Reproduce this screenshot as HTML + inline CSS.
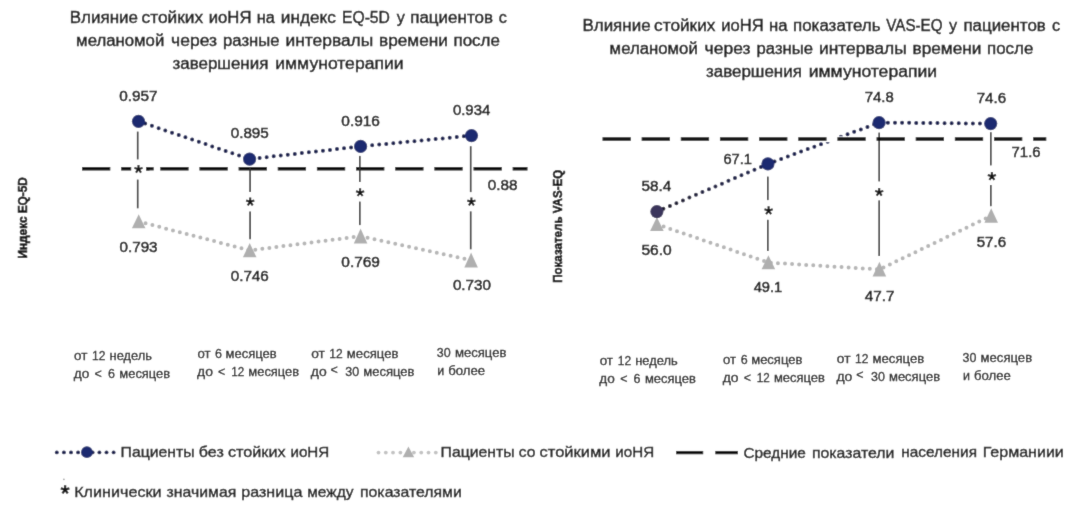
<!DOCTYPE html>
<html><head><meta charset="utf-8"><style>
html,body{margin:0;padding:0;background:#fff;}
body{width:1080px;height:515px;overflow:hidden;font-family:"Liberation Sans",sans-serif;}
svg{display:block;font-family:"Liberation Sans",sans-serif;}
</style></head><body>
<svg width="1080" height="515" viewBox="0 0 1080 515">
<defs><filter id="soft" x="0" y="0" width="1080" height="515" filterUnits="userSpaceOnUse"><feConvolveMatrix order="3" kernelMatrix="1 5 1 5 40 5 1 5 1" divisor="64" edgeMode="duplicate" preserveAlpha="true"/></filter></defs>
<g filter="url(#soft)">
<rect width="1080" height="515" fill="#ffffff"/>
<text x="69.74" y="23.15" font-size="15.6" fill="#141414" font-weight="normal" textLength="68.23" lengthAdjust="spacingAndGlyphs" stroke="#141414" stroke-width="0.42">Влияние</text>
<text x="141.54" y="23.15" font-size="15.6" fill="#141414" font-weight="normal" textLength="61.63" lengthAdjust="spacingAndGlyphs" stroke="#141414" stroke-width="0.42">стойких</text>
<text x="208.74" y="23.15" font-size="15.6" fill="#141414" font-weight="normal" textLength="42.73" lengthAdjust="spacingAndGlyphs" stroke="#141414" stroke-width="0.42">иоНЯ</text>
<text x="256.74" y="23.15" font-size="15.6" fill="#141414" font-weight="normal" textLength="18.13" lengthAdjust="spacingAndGlyphs" stroke="#141414" stroke-width="0.42">на</text>
<text x="280.84" y="23.15" font-size="15.6" fill="#141414" font-weight="normal" textLength="55.13" lengthAdjust="spacingAndGlyphs" stroke="#141414" stroke-width="0.42">индекс</text>
<text x="341.94" y="23.15" font-size="15.6" fill="#141414" font-weight="normal" textLength="48.03" lengthAdjust="spacingAndGlyphs" stroke="#141414" stroke-width="0.42">EQ-5D</text>
<text x="400.75" y="23.15" font-size="16.22" fill="#141414" font-weight="normal" text-anchor="middle" stroke="#141414" stroke-width="0.42">у</text>
<text x="410.24" y="23.15" font-size="15.6" fill="#141414" font-weight="normal" textLength="82.73" lengthAdjust="spacingAndGlyphs" stroke="#141414" stroke-width="0.42">пациентов</text>
<text x="502.75" y="23.15" font-size="16.22" fill="#141414" font-weight="normal" text-anchor="middle" stroke="#141414" stroke-width="0.42">с</text>
<text x="76.14" y="46.10" font-size="15.6" fill="#141414" font-weight="normal" textLength="88.13" lengthAdjust="spacingAndGlyphs" stroke="#141414" stroke-width="0.42">меланомой</text>
<text x="171.14" y="46.10" font-size="15.6" fill="#141414" font-weight="normal" textLength="45.93" lengthAdjust="spacingAndGlyphs" stroke="#141414" stroke-width="0.42">через</text>
<text x="223.04" y="46.10" font-size="15.6" fill="#141414" font-weight="normal" textLength="56.43" lengthAdjust="spacingAndGlyphs" stroke="#141414" stroke-width="0.42">разные</text>
<text x="285.44" y="46.10" font-size="15.6" fill="#141414" font-weight="normal" textLength="87.83" lengthAdjust="spacingAndGlyphs" stroke="#141414" stroke-width="0.42">интервалы</text>
<text x="379.04" y="46.10" font-size="15.6" fill="#141414" font-weight="normal" textLength="68.93" lengthAdjust="spacingAndGlyphs" stroke="#141414" stroke-width="0.42">времени</text>
<text x="453.54" y="46.10" font-size="15.6" fill="#141414" font-weight="normal" textLength="46.33" lengthAdjust="spacingAndGlyphs" stroke="#141414" stroke-width="0.42">после</text>
<text x="172.44" y="68.90" font-size="15.6" fill="#141414" font-weight="normal" textLength="95.93" lengthAdjust="spacingAndGlyphs" stroke="#141414" stroke-width="0.42">завершения</text>
<text x="275.24" y="68.90" font-size="15.6" fill="#141414" font-weight="normal" textLength="128.33" lengthAdjust="spacingAndGlyphs" stroke="#141414" stroke-width="0.42">иммунотерапии</text>
<text x="582.44" y="30.80" font-size="15.6" fill="#141414" font-weight="normal" textLength="68.13" lengthAdjust="spacingAndGlyphs" stroke="#141414" stroke-width="0.42">Влияние</text>
<text x="654.14" y="30.80" font-size="15.6" fill="#141414" font-weight="normal" textLength="61.23" lengthAdjust="spacingAndGlyphs" stroke="#141414" stroke-width="0.42">стойких</text>
<text x="721.34" y="30.80" font-size="15.6" fill="#141414" font-weight="normal" textLength="42.43" lengthAdjust="spacingAndGlyphs" stroke="#141414" stroke-width="0.42">иоНЯ</text>
<text x="768.94" y="30.80" font-size="15.6" fill="#141414" font-weight="normal" textLength="18.53" lengthAdjust="spacingAndGlyphs" stroke="#141414" stroke-width="0.42">на</text>
<text x="793.04" y="30.80" font-size="15.6" fill="#141414" font-weight="normal" textLength="87.53" lengthAdjust="spacingAndGlyphs" stroke="#141414" stroke-width="0.42">показатель</text>
<text x="886.34" y="30.80" font-size="15.6" fill="#141414" font-weight="normal" textLength="56.23" lengthAdjust="spacingAndGlyphs" stroke="#141414" stroke-width="0.42">VAS-EQ</text>
<text x="953.15" y="30.80" font-size="16.22" fill="#141414" font-weight="normal" text-anchor="middle" stroke="#141414" stroke-width="0.42">у</text>
<text x="963.44" y="30.80" font-size="15.6" fill="#141414" font-weight="normal" textLength="82.33" lengthAdjust="spacingAndGlyphs" stroke="#141414" stroke-width="0.42">пациентов</text>
<text x="1055.95" y="30.80" font-size="16.22" fill="#141414" font-weight="normal" text-anchor="middle" stroke="#141414" stroke-width="0.42">с</text>
<text x="609.64" y="53.70" font-size="15.6" fill="#141414" font-weight="normal" textLength="88.13" lengthAdjust="spacingAndGlyphs" stroke="#141414" stroke-width="0.42">меланомой</text>
<text x="704.64" y="53.70" font-size="15.6" fill="#141414" font-weight="normal" textLength="45.93" lengthAdjust="spacingAndGlyphs" stroke="#141414" stroke-width="0.42">через</text>
<text x="756.54" y="53.70" font-size="15.6" fill="#141414" font-weight="normal" textLength="56.43" lengthAdjust="spacingAndGlyphs" stroke="#141414" stroke-width="0.42">разные</text>
<text x="818.94" y="53.70" font-size="15.6" fill="#141414" font-weight="normal" textLength="87.83" lengthAdjust="spacingAndGlyphs" stroke="#141414" stroke-width="0.42">интервалы</text>
<text x="912.54" y="53.70" font-size="15.6" fill="#141414" font-weight="normal" textLength="68.93" lengthAdjust="spacingAndGlyphs" stroke="#141414" stroke-width="0.42">времени</text>
<text x="987.04" y="53.70" font-size="15.6" fill="#141414" font-weight="normal" textLength="46.33" lengthAdjust="spacingAndGlyphs" stroke="#141414" stroke-width="0.42">после</text>
<text x="705.94" y="76.70" font-size="15.6" fill="#141414" font-weight="normal" textLength="95.93" lengthAdjust="spacingAndGlyphs" stroke="#141414" stroke-width="0.42">завершения</text>
<text x="808.74" y="76.70" font-size="15.6" fill="#141414" font-weight="normal" textLength="128.33" lengthAdjust="spacingAndGlyphs" stroke="#141414" stroke-width="0.42">иммунотерапии</text>
<line x1="82.0" y1="168.8" x2="527.5" y2="168.8" stroke="#0a0a0a" stroke-width="3.5" stroke-dasharray="28.3 10.85"/>
<line x1="137.7" y1="131.6" x2="137.7" y2="159.4" stroke="#303030" stroke-width="1.65"/>
<line x1="137.7" y1="179.6" x2="137.7" y2="208.3" stroke="#303030" stroke-width="1.65"/>
<line x1="250.1" y1="168.0" x2="250.1" y2="192.0" stroke="#303030" stroke-width="1.65"/>
<line x1="250.1" y1="211.4" x2="250.1" y2="239.3" stroke="#303030" stroke-width="1.65"/>
<line x1="359.8" y1="155.9" x2="359.8" y2="182.0" stroke="#303030" stroke-width="1.65"/>
<line x1="359.8" y1="201.6" x2="359.8" y2="225.1" stroke="#303030" stroke-width="1.65"/>
<line x1="470.7" y1="146.2" x2="470.7" y2="192.1" stroke="#303030" stroke-width="1.65"/>
<line x1="470.7" y1="211.4" x2="470.7" y2="249.3" stroke="#303030" stroke-width="1.65"/>
<rect x="131.2" y="164" width="15" height="10" fill="#fff"/>
<rect x="146.2" y="167.2" width="7.5" height="3.2" fill="#0a0a0a"/>
<path d="M138.50,169.20 L138.50,164.90 M138.50,169.20 L142.59,167.87 M138.50,169.20 L141.03,172.68 M138.50,169.20 L135.97,172.68 M138.50,169.20 L134.41,167.87 " stroke="#151515" stroke-width="2.05" fill="none" stroke-linecap="butt"/>
<path d="M250.20,201.80 L250.20,197.50 M250.20,201.80 L254.29,200.47 M250.20,201.80 L252.73,205.28 M250.20,201.80 L247.67,205.28 M250.20,201.80 L246.11,200.47 " stroke="#151515" stroke-width="2.05" fill="none" stroke-linecap="butt"/>
<path d="M360.10,192.50 L360.10,188.20 M360.10,192.50 L364.19,191.17 M360.10,192.50 L362.63,195.98 M360.10,192.50 L357.57,195.98 M360.10,192.50 L356.01,191.17 " stroke="#151515" stroke-width="2.05" fill="none" stroke-linecap="butt"/>
<path d="M471.40,201.80 L471.40,197.50 M471.40,201.80 L475.49,200.47 M471.40,201.80 L473.93,205.28 M471.40,201.80 L468.87,205.28 M471.40,201.80 L467.31,200.47 " stroke="#151515" stroke-width="2.05" fill="none" stroke-linecap="butt"/>
<path d="M138.7,221.5 L249.7,250.4 L360.6,236.2 L471.1,260.2" fill="none" stroke="#b6b6b6" stroke-width="4.0" stroke-linecap="round" stroke-dasharray="0 7.08"/>
<path d="M138.5,121.3 L249.6,159.1 L360.6,146.4 L471.5,135.6" fill="none" stroke="#171e50" stroke-width="4.0" stroke-linecap="round" stroke-dasharray="0 7.08"/>
<path d="M138.7,214.2 L145.5,228.3 L131.9,228.3 Z" fill="#afafaf"/>
<path d="M249.7,243.0 L256.5,257.3 L242.9,257.3 Z" fill="#afafaf"/>
<path d="M360.6,228.6 L367.4,243.4 L353.8,243.4 Z" fill="#afafaf"/>
<path d="M471.1,252.6 L477.9,267.4 L464.3,267.4 Z" fill="#afafaf"/>
<circle cx="138.5" cy="121.3" r="6.6" fill="#1c2a70"/>
<circle cx="249.6" cy="159.1" r="6.6" fill="#1c2a70"/>
<circle cx="360.6" cy="146.4" r="6.6" fill="#1c2a70"/>
<circle cx="471.5" cy="135.6" r="6.6" fill="#1c2a70"/>
<text x="119.20" y="101.30" font-size="14.9" fill="#141414" font-weight="normal" textLength="38.34" lengthAdjust="spacingAndGlyphs" stroke="#141414" stroke-width="0.5">0.957</text>
<text x="230.70" y="138.30" font-size="14.9" fill="#141414" font-weight="normal" textLength="38.14" lengthAdjust="spacingAndGlyphs" stroke="#141414" stroke-width="0.5">0.895</text>
<text x="341.30" y="126.20" font-size="14.9" fill="#141414" font-weight="normal" textLength="38.64" lengthAdjust="spacingAndGlyphs" stroke="#141414" stroke-width="0.5">0.916</text>
<text x="452.90" y="114.80" font-size="14.9" fill="#141414" font-weight="normal" textLength="37.35" lengthAdjust="spacingAndGlyphs" stroke="#141414" stroke-width="0.5">0.934</text>
<text x="487.70" y="190.00" font-size="14.9" fill="#141414" font-weight="normal" textLength="29.75" lengthAdjust="spacingAndGlyphs" stroke="#141414" stroke-width="0.5">0.88</text>
<text x="119.50" y="251.80" font-size="14.9" fill="#141414" font-weight="normal" textLength="38.05" lengthAdjust="spacingAndGlyphs" stroke="#141414" stroke-width="0.5">0.793</text>
<text x="230.70" y="280.80" font-size="14.9" fill="#141414" font-weight="normal" textLength="38.14" lengthAdjust="spacingAndGlyphs" stroke="#141414" stroke-width="0.5">0.746</text>
<text x="341.30" y="266.50" font-size="14.9" fill="#141414" font-weight="normal" textLength="38.64" lengthAdjust="spacingAndGlyphs" stroke="#141414" stroke-width="0.5">0.769</text>
<text x="452.90" y="290.40" font-size="14.9" fill="#141414" font-weight="normal" textLength="38.05" lengthAdjust="spacingAndGlyphs" stroke="#141414" stroke-width="0.5">0.730</text>
<line x1="767.8" y1="176.6" x2="767.8" y2="200.1" stroke="#303030" stroke-width="1.65"/>
<line x1="767.8" y1="219.8" x2="767.8" y2="251.0" stroke="#303030" stroke-width="1.65"/>
<line x1="879.2" y1="132.6" x2="879.2" y2="181.4" stroke="#303030" stroke-width="1.65"/>
<line x1="879.2" y1="200.4" x2="879.2" y2="256.0" stroke="#303030" stroke-width="1.65"/>
<line x1="990.8" y1="132.2" x2="990.8" y2="165.4" stroke="#303030" stroke-width="1.65"/>
<line x1="990.8" y1="185.0" x2="990.8" y2="206.2" stroke="#303030" stroke-width="1.65"/>
<path d="M768.60,210.60 L768.60,206.30 M768.60,210.60 L772.69,209.27 M768.60,210.60 L771.13,214.08 M768.60,210.60 L766.07,214.08 M768.60,210.60 L764.51,209.27 " stroke="#151515" stroke-width="2.05" fill="none" stroke-linecap="butt"/>
<path d="M879.20,192.20 L879.20,187.90 M879.20,192.20 L883.29,190.87 M879.20,192.20 L881.73,195.68 M879.20,192.20 L876.67,195.68 M879.20,192.20 L875.11,190.87 " stroke="#151515" stroke-width="2.05" fill="none" stroke-linecap="butt"/>
<path d="M991.90,176.30 L991.90,172.00 M991.90,176.30 L995.99,174.97 M991.90,176.30 L994.43,179.78 M991.90,176.30 L989.37,179.78 M991.90,176.30 L987.81,174.97 " stroke="#151515" stroke-width="2.05" fill="none" stroke-linecap="butt"/>
<path d="M656.9,224.3 L768.4,262.6 L879.4,269.4 L991.2,215.8" fill="none" stroke="#b6b6b6" stroke-width="4.0" stroke-linecap="round" stroke-dasharray="0 7.08"/>
<defs><linearGradient id="gr1" gradientUnits="userSpaceOnUse" x1="656.9" y1="211.6" x2="767.9" y2="163.9"><stop offset="0" stop-color="#1d1b2c"/><stop offset="0.45" stop-color="#232446"/><stop offset="1" stop-color="#171e50"/></linearGradient></defs>
<path d="M656.9,211.6 L767.9,163.9" fill="none" stroke="url(#gr1)" stroke-width="4.0" stroke-linecap="round" stroke-dasharray="0 7.08"/>
<path d="M767.9,163.9 L879.1,122.6 L990.7,123.6" fill="none" stroke="#171e50" stroke-width="4.0" stroke-linecap="round" stroke-dasharray="0 7.08"/>
<rect x="822" y="136.3" width="24" height="5.9" fill="#fff"/>
<line x1="602.5" y1="139.0" x2="1046.3" y2="139.0" stroke="#0a0a0a" stroke-width="3.5" stroke-dasharray="28.3 10.85"/>
<path d="M656.9,217.1 L663.7,231.0 L650.1,231.0 Z" fill="#afafaf"/>
<path d="M768.4,255.3 L775.2,269.3 L761.6,269.3 Z" fill="#afafaf"/>
<path d="M879.4,261.8 L886.2,276.5 L872.6,276.5 Z" fill="#afafaf"/>
<path d="M991.2,208.3 L998.0,222.8 L984.4,222.8 Z" fill="#afafaf"/>
<circle cx="656.9" cy="211.6" r="6.6" fill="#3a345c"/>
<circle cx="767.9" cy="163.9" r="6.6" fill="#1c2a70"/>
<circle cx="879.1" cy="122.6" r="6.6" fill="#1c2a70"/>
<circle cx="990.7" cy="123.6" r="6.6" fill="#1c2a70"/>
<text x="641.40" y="191.30" font-size="14.9" fill="#141414" font-weight="normal" textLength="29.75" lengthAdjust="spacingAndGlyphs" stroke="#141414" stroke-width="0.5">58.4</text>
<text x="723.40" y="164.00" font-size="14.9" fill="#141414" font-weight="normal" textLength="28.54" lengthAdjust="spacingAndGlyphs" stroke="#141414" stroke-width="0.5">67.1</text>
<text x="864.70" y="102.40" font-size="14.9" fill="#141414" font-weight="normal" textLength="29.04" lengthAdjust="spacingAndGlyphs" stroke="#141414" stroke-width="0.5">74.8</text>
<text x="976.70" y="103.20" font-size="14.9" fill="#141414" font-weight="normal" textLength="29.35" lengthAdjust="spacingAndGlyphs" stroke="#141414" stroke-width="0.5">74.6</text>
<text x="1011.60" y="156.60" font-size="14.9" fill="#141414" font-weight="normal" textLength="28.94" lengthAdjust="spacingAndGlyphs" stroke="#141414" stroke-width="0.5">71.6</text>
<text x="641.40" y="255.30" font-size="14.9" fill="#141414" font-weight="normal" textLength="30.25" lengthAdjust="spacingAndGlyphs" stroke="#141414" stroke-width="0.5">56.0</text>
<text x="753.70" y="292.40" font-size="14.9" fill="#141414" font-weight="normal" textLength="28.54" lengthAdjust="spacingAndGlyphs" stroke="#141414" stroke-width="0.5">49.1</text>
<text x="864.70" y="301.10" font-size="14.9" fill="#141414" font-weight="normal" textLength="29.75" lengthAdjust="spacingAndGlyphs" stroke="#141414" stroke-width="0.5">47.7</text>
<text x="976.70" y="246.60" font-size="14.9" fill="#141414" font-weight="normal" textLength="29.35" lengthAdjust="spacingAndGlyphs" stroke="#141414" stroke-width="0.5">57.6</text>
<text transform="translate(27.2,258.5) rotate(-90)" font-size="13" font-weight="bold" fill="#0c0c0c" stroke="#0c0c0c" stroke-width="0.5" textLength="81.3" lengthAdjust="spacingAndGlyphs">Индекс EQ-5D</text>
<text transform="translate(561.6,282.8) rotate(-90)" font-size="13" font-weight="bold" fill="#0c0c0c" stroke="#0c0c0c" stroke-width="0.5" textLength="113" lengthAdjust="spacingAndGlyphs">Показатель VAS-EQ</text>
<text x="74.06" y="359.75" font-size="12" fill="#141414" font-weight="normal" textLength="13.30" lengthAdjust="spacingAndGlyphs" stroke="#141414" stroke-width="0.26">от</text>
<text x="92.06" y="359.75" font-size="12" fill="#141414" font-weight="normal" textLength="13.40" lengthAdjust="spacingAndGlyphs" stroke="#141414" stroke-width="0.26">12</text>
<text x="109.56" y="359.75" font-size="12" fill="#141414" font-weight="normal" textLength="42.40" lengthAdjust="spacingAndGlyphs" stroke="#141414" stroke-width="0.26">недель</text>
<text x="73.71" y="377.50" font-size="12" fill="#141414" font-weight="normal" textLength="15.50" lengthAdjust="spacingAndGlyphs" stroke="#141414" stroke-width="0.26">до</text>
<text x="98.21" y="377.50" font-size="12.48" fill="#141414" font-weight="normal" text-anchor="middle" stroke="#141414" stroke-width="0.26">&lt;</text>
<text x="111.44" y="377.50" font-size="12.48" fill="#141414" font-weight="normal" text-anchor="middle" stroke="#141414" stroke-width="0.26">6</text>
<text x="119.31" y="377.50" font-size="12" fill="#141414" font-weight="normal" textLength="50.90" lengthAdjust="spacingAndGlyphs" stroke="#141414" stroke-width="0.26">месяцев</text>
<text x="197.41" y="358.10" font-size="12" fill="#141414" font-weight="normal" textLength="13.05" lengthAdjust="spacingAndGlyphs" stroke="#141414" stroke-width="0.26">от</text>
<text x="218.54" y="358.10" font-size="12.48" fill="#141414" font-weight="normal" text-anchor="middle" stroke="#141414" stroke-width="0.26">6</text>
<text x="225.56" y="358.10" font-size="12" fill="#141414" font-weight="normal" textLength="51.15" lengthAdjust="spacingAndGlyphs" stroke="#141414" stroke-width="0.26">месяцев</text>
<text x="197.06" y="376.25" font-size="12" fill="#141414" font-weight="normal" textLength="15.90" lengthAdjust="spacingAndGlyphs" stroke="#141414" stroke-width="0.26">до</text>
<text x="221.74" y="376.25" font-size="12.48" fill="#141414" font-weight="normal" text-anchor="middle" stroke="#141414" stroke-width="0.26">&lt;</text>
<text x="231.21" y="376.25" font-size="12" fill="#141414" font-weight="normal" textLength="13.00" lengthAdjust="spacingAndGlyphs" stroke="#141414" stroke-width="0.26">12</text>
<text x="248.31" y="376.25" font-size="12" fill="#141414" font-weight="normal" textLength="50.90" lengthAdjust="spacingAndGlyphs" stroke="#141414" stroke-width="0.26">месяцев</text>
<text x="311.21" y="357.75" font-size="12" fill="#141414" font-weight="normal" textLength="13.65" lengthAdjust="spacingAndGlyphs" stroke="#141414" stroke-width="0.26">от</text>
<text x="329.31" y="357.75" font-size="12" fill="#141414" font-weight="normal" textLength="13.40" lengthAdjust="spacingAndGlyphs" stroke="#141414" stroke-width="0.26">12</text>
<text x="346.81" y="357.75" font-size="12" fill="#141414" font-weight="normal" textLength="51.75" lengthAdjust="spacingAndGlyphs" stroke="#141414" stroke-width="0.26">месяцев</text>
<text x="310.81" y="375.60" font-size="12" fill="#141414" font-weight="normal" textLength="15.90" lengthAdjust="spacingAndGlyphs" stroke="#141414" stroke-width="0.26">до</text>
<text x="334.24" y="373.50" font-size="12.48" fill="#141414" font-weight="normal" text-anchor="middle" stroke="#141414" stroke-width="0.26">&lt;</text>
<text x="345.31" y="375.60" font-size="12" fill="#141414" font-weight="normal" textLength="13.90" lengthAdjust="spacingAndGlyphs" stroke="#141414" stroke-width="0.26">30</text>
<text x="363.31" y="375.60" font-size="12" fill="#141414" font-weight="normal" textLength="51.15" lengthAdjust="spacingAndGlyphs" stroke="#141414" stroke-width="0.26">месяцев</text>
<text x="436.81" y="356.50" font-size="12" fill="#141414" font-weight="normal" textLength="13.90" lengthAdjust="spacingAndGlyphs" stroke="#141414" stroke-width="0.26">30</text>
<text x="454.91" y="356.50" font-size="12" fill="#141414" font-weight="normal" textLength="51.55" lengthAdjust="spacingAndGlyphs" stroke="#141414" stroke-width="0.26">месяцев</text>
<text x="440.76" y="374.75" font-size="12.48" fill="#141414" font-weight="normal" text-anchor="middle" stroke="#141414" stroke-width="0.26">и</text>
<text x="448.31" y="374.75" font-size="12" fill="#141414" font-weight="normal" textLength="36.90" lengthAdjust="spacingAndGlyphs" stroke="#141414" stroke-width="0.26">более</text>
<text x="599.71" y="365.25" font-size="12" fill="#141414" font-weight="normal" textLength="13.30" lengthAdjust="spacingAndGlyphs" stroke="#141414" stroke-width="0.26">от</text>
<text x="617.71" y="365.25" font-size="12" fill="#141414" font-weight="normal" textLength="13.40" lengthAdjust="spacingAndGlyphs" stroke="#141414" stroke-width="0.26">12</text>
<text x="635.21" y="365.25" font-size="12" fill="#141414" font-weight="normal" textLength="42.40" lengthAdjust="spacingAndGlyphs" stroke="#141414" stroke-width="0.26">недель</text>
<text x="599.36" y="383.00" font-size="12" fill="#141414" font-weight="normal" textLength="15.50" lengthAdjust="spacingAndGlyphs" stroke="#141414" stroke-width="0.26">до</text>
<text x="623.86" y="383.00" font-size="12.48" fill="#141414" font-weight="normal" text-anchor="middle" stroke="#141414" stroke-width="0.26">&lt;</text>
<text x="637.09" y="383.00" font-size="12.48" fill="#141414" font-weight="normal" text-anchor="middle" stroke="#141414" stroke-width="0.26">6</text>
<text x="644.96" y="383.00" font-size="12" fill="#141414" font-weight="normal" textLength="50.90" lengthAdjust="spacingAndGlyphs" stroke="#141414" stroke-width="0.26">месяцев</text>
<text x="723.06" y="363.60" font-size="12" fill="#141414" font-weight="normal" textLength="13.05" lengthAdjust="spacingAndGlyphs" stroke="#141414" stroke-width="0.26">от</text>
<text x="744.18" y="363.60" font-size="12.48" fill="#141414" font-weight="normal" text-anchor="middle" stroke="#141414" stroke-width="0.26">6</text>
<text x="751.21" y="363.60" font-size="12" fill="#141414" font-weight="normal" textLength="51.15" lengthAdjust="spacingAndGlyphs" stroke="#141414" stroke-width="0.26">месяцев</text>
<text x="722.71" y="381.75" font-size="12" fill="#141414" font-weight="normal" textLength="15.90" lengthAdjust="spacingAndGlyphs" stroke="#141414" stroke-width="0.26">до</text>
<text x="747.38" y="381.75" font-size="12.48" fill="#141414" font-weight="normal" text-anchor="middle" stroke="#141414" stroke-width="0.26">&lt;</text>
<text x="756.86" y="381.75" font-size="12" fill="#141414" font-weight="normal" textLength="13.00" lengthAdjust="spacingAndGlyphs" stroke="#141414" stroke-width="0.26">12</text>
<text x="773.96" y="381.75" font-size="12" fill="#141414" font-weight="normal" textLength="50.90" lengthAdjust="spacingAndGlyphs" stroke="#141414" stroke-width="0.26">месяцев</text>
<text x="836.86" y="363.25" font-size="12" fill="#141414" font-weight="normal" textLength="13.65" lengthAdjust="spacingAndGlyphs" stroke="#141414" stroke-width="0.26">от</text>
<text x="854.96" y="363.25" font-size="12" fill="#141414" font-weight="normal" textLength="13.40" lengthAdjust="spacingAndGlyphs" stroke="#141414" stroke-width="0.26">12</text>
<text x="872.46" y="363.25" font-size="12" fill="#141414" font-weight="normal" textLength="51.75" lengthAdjust="spacingAndGlyphs" stroke="#141414" stroke-width="0.26">месяцев</text>
<text x="836.46" y="381.10" font-size="12" fill="#141414" font-weight="normal" textLength="15.90" lengthAdjust="spacingAndGlyphs" stroke="#141414" stroke-width="0.26">до</text>
<text x="859.88" y="379.00" font-size="12.48" fill="#141414" font-weight="normal" text-anchor="middle" stroke="#141414" stroke-width="0.26">&lt;</text>
<text x="870.96" y="381.10" font-size="12" fill="#141414" font-weight="normal" textLength="13.90" lengthAdjust="spacingAndGlyphs" stroke="#141414" stroke-width="0.26">30</text>
<text x="888.96" y="381.10" font-size="12" fill="#141414" font-weight="normal" textLength="51.15" lengthAdjust="spacingAndGlyphs" stroke="#141414" stroke-width="0.26">месяцев</text>
<text x="962.46" y="362.00" font-size="12" fill="#141414" font-weight="normal" textLength="13.90" lengthAdjust="spacingAndGlyphs" stroke="#141414" stroke-width="0.26">30</text>
<text x="980.56" y="362.00" font-size="12" fill="#141414" font-weight="normal" textLength="51.55" lengthAdjust="spacingAndGlyphs" stroke="#141414" stroke-width="0.26">месяцев</text>
<text x="966.41" y="380.25" font-size="12.48" fill="#141414" font-weight="normal" text-anchor="middle" stroke="#141414" stroke-width="0.26">и</text>
<text x="973.96" y="380.25" font-size="12" fill="#141414" font-weight="normal" textLength="36.90" lengthAdjust="spacingAndGlyphs" stroke="#141414" stroke-width="0.26">более</text>
<circle cx="56.8" cy="452.4" r="1.95" fill="#171e50"/>
<circle cx="63.9" cy="452.4" r="1.95" fill="#171e50"/>
<circle cx="71.0" cy="452.4" r="1.95" fill="#171e50"/>
<circle cx="78.1" cy="452.4" r="1.95" fill="#171e50"/>
<circle cx="92.6" cy="452.4" r="1.95" fill="#171e50"/>
<circle cx="99.4" cy="452.4" r="1.95" fill="#171e50"/>
<circle cx="106.5" cy="452.4" r="1.95" fill="#171e50"/>
<circle cx="113.6" cy="452.4" r="1.95" fill="#171e50"/>
<circle cx="86.9" cy="452.2" r="5.9" fill="#1c2a70"/>
<text x="120.60" y="457.20" font-size="14.8" fill="#141414" font-weight="normal" textLength="73.94" lengthAdjust="spacingAndGlyphs" stroke="#141414" stroke-width="0.36">Пациенты</text>
<text x="198.80" y="457.20" font-size="14.8" fill="#141414" font-weight="normal" textLength="24.94" lengthAdjust="spacingAndGlyphs" stroke="#141414" stroke-width="0.36">без</text>
<text x="227.95" y="457.20" font-size="14.8" fill="#141414" font-weight="normal" textLength="57.59" lengthAdjust="spacingAndGlyphs" stroke="#141414" stroke-width="0.36">стойких</text>
<text x="290.45" y="457.20" font-size="14.8" fill="#141414" font-weight="normal" textLength="38.84" lengthAdjust="spacingAndGlyphs" stroke="#141414" stroke-width="0.36">иоНЯ</text>
<circle cx="378.5" cy="452.6" r="1.9" fill="#c2c2c2"/>
<circle cx="385.8" cy="452.6" r="1.9" fill="#c2c2c2"/>
<circle cx="393.0" cy="452.6" r="1.9" fill="#c2c2c2"/>
<circle cx="400.4" cy="452.6" r="1.9" fill="#c2c2c2"/>
<circle cx="413.9" cy="452.6" r="1.9" fill="#c2c2c2"/>
<circle cx="421.25" cy="452.6" r="1.9" fill="#c2c2c2"/>
<circle cx="428.5" cy="452.6" r="1.9" fill="#c2c2c2"/>
<circle cx="435.8" cy="452.6" r="1.9" fill="#c2c2c2"/>
<path d="M408.4,446.5 L414.2,457.2 L402.7,457.2 Z" fill="#afafaf"/>
<text x="440.60" y="457.20" font-size="14.8" fill="#141414" font-weight="normal" textLength="73.94" lengthAdjust="spacingAndGlyphs" stroke="#141414" stroke-width="0.36">Пациенты</text>
<text x="518.80" y="457.20" font-size="14.8" fill="#141414" font-weight="normal" textLength="16.64" lengthAdjust="spacingAndGlyphs" stroke="#141414" stroke-width="0.36">со</text>
<text x="539.60" y="457.20" font-size="14.8" fill="#141414" font-weight="normal" textLength="70.84" lengthAdjust="spacingAndGlyphs" stroke="#141414" stroke-width="0.36">стойкими</text>
<text x="615.30" y="457.20" font-size="14.8" fill="#141414" font-weight="normal" textLength="38.84" lengthAdjust="spacingAndGlyphs" stroke="#141414" stroke-width="0.36">иоНЯ</text>
<line x1="676.1" y1="452.6" x2="703.2" y2="452.6" stroke="#0a0a0a" stroke-width="3.3"/>
<line x1="715.3" y1="452.6" x2="737.9" y2="452.6" stroke="#0a0a0a" stroke-width="3.3"/>
<text x="743.40" y="458.30" font-size="14.8" fill="#141414" font-weight="normal" textLength="62.44" lengthAdjust="spacingAndGlyphs" stroke="#141414" stroke-width="0.36">Средние</text>
<text x="812.00" y="458.30" font-size="14.8" fill="#141414" font-weight="normal" textLength="82.29" lengthAdjust="spacingAndGlyphs" stroke="#141414" stroke-width="0.36">показатели</text>
<text x="901.30" y="456.70" font-size="14.8" fill="#141414" font-weight="normal" textLength="75.74" lengthAdjust="spacingAndGlyphs" stroke="#141414" stroke-width="0.36">населения</text>
<text x="982.70" y="456.70" font-size="14.8" fill="#141414" font-weight="normal" textLength="81.14" lengthAdjust="spacingAndGlyphs" stroke="#141414" stroke-width="0.36">Германиии</text>
<path d="M65.10,489.70 L65.10,485.20 M65.10,489.70 L69.38,488.31 M65.10,489.70 L67.75,493.34 M65.10,489.70 L62.45,493.34 M65.10,489.70 L60.82,488.31 " stroke="#151515" stroke-width="2.3" fill="none" stroke-linecap="butt"/>
<text x="74.20" y="497.40" font-size="14.8" fill="#141414" font-weight="normal" textLength="87.44" lengthAdjust="spacingAndGlyphs" stroke="#141414" stroke-width="0.36">Клинически</text>
<text x="166.60" y="497.40" font-size="14.8" fill="#141414" font-weight="normal" textLength="69.74" lengthAdjust="spacingAndGlyphs" stroke="#141414" stroke-width="0.36">значимая</text>
<text x="241.30" y="497.40" font-size="14.8" fill="#141414" font-weight="normal" textLength="61.04" lengthAdjust="spacingAndGlyphs" stroke="#141414" stroke-width="0.36">разница</text>
<text x="307.20" y="497.40" font-size="14.8" fill="#141414" font-weight="normal" textLength="46.24" lengthAdjust="spacingAndGlyphs" stroke="#141414" stroke-width="0.36">между</text>
<text x="360.00" y="497.40" font-size="14.8" fill="#141414" font-weight="normal" textLength="101.79" lengthAdjust="spacingAndGlyphs" stroke="#141414" stroke-width="0.36">показателями</text>
<circle cx="63.9" cy="479.4" r="0.8" fill="#999"/>
</g>
</svg>
</body></html>
